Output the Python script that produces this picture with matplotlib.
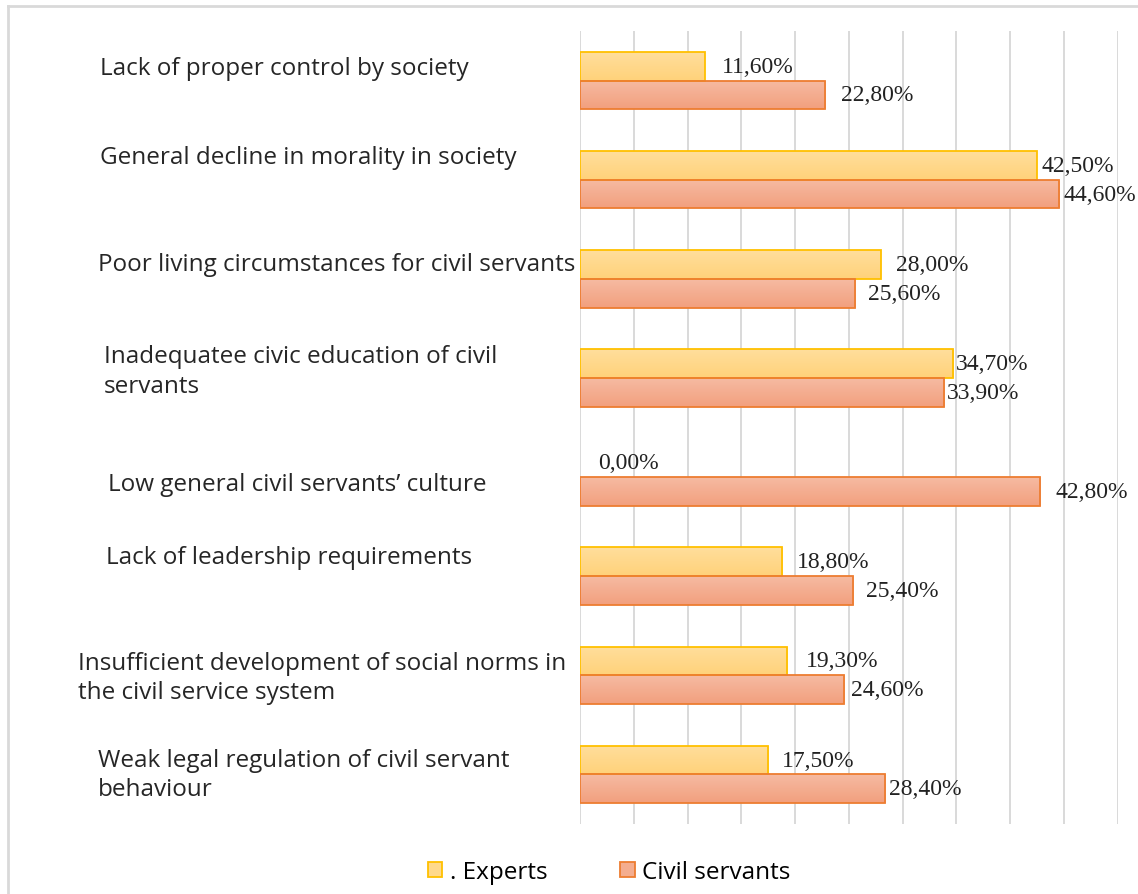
import numpy as np
import matplotlib
matplotlib.use('Agg')
import matplotlib.pyplot as plt
from matplotlib.patches import Patch
from matplotlib.lines import Line2D
from matplotlib.transforms import blended_transform_factory, offset_copy

# Данные
categories = [
    "Lack of proper control by society",
    "General decline in morality in society",
    "Poor living circumstances for civil servants",
    "Inadequatee civic education of civil\nservants",
    "Low general civil servants\u2019 culture",
    "Lack of leadership requirements",
    "Insufficient development of social norms in\nthe civil service system",
    "Weak legal regulation of civil servant\nbehaviour",
]
experts = [11.6, 42.5, 28.0, 34.7, 0.0, 18.8, 19.3, 17.5]
civil_servants = [22.8, 44.6, 25.6, 33.9, 42.8, 25.4, 24.6, 28.4]
series_names = [". Experts", "Civil servants"]

# Положение подписей категорий: x в пикселях, сдвиг по y в пикселях
label_x_px = [100, 100, 98, 104, 108, 106, 78, 98]
label_dy_px = [15, 25, 17, 9, -5, 21, 0, 2]
# отступ подписей значений от конца столбика, пиксели
exp_pad_px = [17, 5, 15, 3, 18, 15, 18, 14]
civ_pad_px = [16, 4, 13, 2, 15, 13, 7, 4]

W, H, DPI = 1138, 895, 100
fig = plt.figure(figsize=(W / DPI, H / DPI), dpi=DPI)
ax = fig.add_axes([580 / W, 1 - 825 / H, 537.5 / W, 793 / H])

exp_face, exp_edge = "#FFD98C", "#FFC000"
civ_face, civ_edge = "#F4AD8F", "#ED7D31"
h = 0.29
y = np.arange(len(categories))

def gradient_bars(bars, top, bottom, edge):
    # мягкий вертикальный градиент внутри каждого столбика + обводка
    grad = np.linspace(0, 1, 64).reshape(-1, 1)
    c1 = np.array(matplotlib.colors.to_rgb(top))
    c2 = np.array(matplotlib.colors.to_rgb(bottom))
    img = c1 + (c2 - c1) * grad[..., None]
    for b in bars:
        if b.get_width() <= 0:
            continue
        x0, y0 = b.get_x(), b.get_y()
        im = ax.imshow(img, extent=[x0, x0 + b.get_width(), y0 + b.get_height(), y0],
                       aspect='auto', zorder=2.5, interpolation='bilinear')
        im.set_clip_path(b)
        ax.add_patch(plt.Rectangle((x0, y0), b.get_width(), b.get_height(),
                                   fill=False, edgecolor=edge, linewidth=1.3, zorder=3))

b1 = ax.barh(y - h / 2, experts, height=h, color=exp_face, linewidth=0, zorder=2)
b2 = ax.barh(y + h / 2, civil_servants, height=h, color=civ_face, linewidth=0, zorder=2)
gradient_bars(b1, "#FFDE9C", "#FFD27A", exp_edge)
gradient_bars(b2, "#F6BBA2", "#F29F7E", civ_edge)

ax.set_xlim(0, 50)
ax.set_ylim(len(categories) - 0.5, -0.5)
ax.set_xticks(np.arange(0, 51, 5))
ax.set_yticks([])
ax.tick_params(axis='x', length=0, labelbottom=False)
ax.grid(axis='x', color="#D9D9D9", linewidth=1.4, zorder=0)
ax.set_axisbelow(True)
for s in ax.spines.values():
    s.set_visible(False)

# Подписи значений
for vals, pads, off in ((experts, exp_pad_px, -h / 2), (civil_servants, civ_pad_px, h / 2)):
    for i, v in enumerate(vals):
        tr = offset_copy(ax.transData, fig=fig, x=pads[i], y=0, units='dots')
        ax.text(v, i + off, f"{v:.2f}%".replace('.', ','), transform=tr,
                ha='left', va='center', fontsize=17, family='Liberation Serif',
                color="#222222", clip_on=False)

# Подписи категорий
for i, lab in enumerate(categories):
    tr = blended_transform_factory(fig.transFigure, ax.transData)
    tr = offset_copy(tr, fig=fig, x=0, y=label_dy_px[i] - 2, units='dots')
    ax.text(label_x_px[i] / W, i, lab, transform=tr, ha='left', va='center',
            fontsize=17.5, family='Open Sans', color="#262626", linespacing=1.3,
            clip_on=False)

# Рамка
fig.add_artist(Line2D([8 / W, 1], [1 - 7 / H, 1 - 7 / H], transform=fig.transFigure,
                      color="#D9D9D9", linewidth=2))
fig.add_artist(Line2D([8 / W, 8 / W], [0, 1 - 7 / H], transform=fig.transFigure,
                      color="#D9D9D9", linewidth=2))

handles = [Patch(facecolor=exp_face, edgecolor=exp_edge, linewidth=1.3),
           Patch(facecolor=civ_face, edgecolor=civ_edge, linewidth=1.3)]
fig.legend(handles, series_names, loc='center', bbox_to_anchor=(609 / W, 1 - 873 / H),
           ncol=2, frameon=False, handlelength=0.6, handleheight=0.6,
           handletextpad=0.3, columnspacing=3.0,
           prop={'family': 'Open Sans', 'size': 17.5})

fig.savefig("out.png", dpi=DPI, facecolor='white')
